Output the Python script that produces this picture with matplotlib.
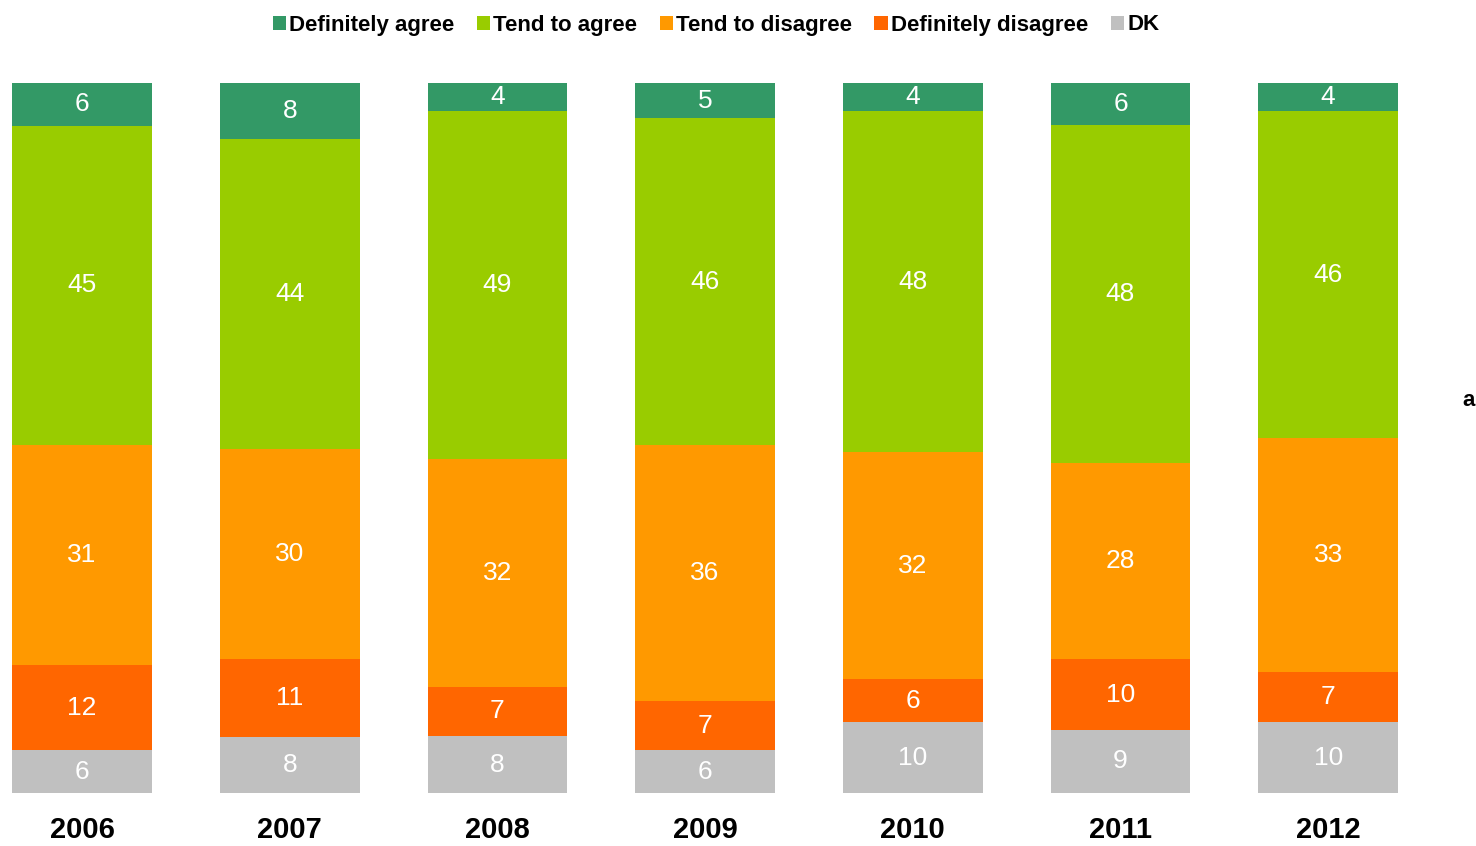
import numpy as np
import matplotlib
matplotlib.use("Agg")
import matplotlib.pyplot as plt

years = ["2006", "2007", "2008", "2009", "2010", "2011", "2012"]
series = ["Definitely agree", "Tend to agree", "Tend to disagree", "Definitely disagree", "DK"]
definitely_agree = [6, 8, 4, 5, 4, 6, 4]
tend_agree = [45, 44, 49, 46, 48, 48, 46]
tend_disagree = [31, 30, 32, 36, 32, 28, 33]
definitely_disagree = [12, 11, 7, 7, 6, 10, 7]
dk = [6, 8, 8, 6, 10, 9, 10]
colors = ["#339966", "#99cc00", "#ff9900", "#ff6600", "#c0c0c0"]

plt.rcParams['font.family'] = ['Liberation Sans', 'DejaVu Sans']

fig = plt.figure(figsize=(14.76, 8.46), dpi=100)
ax = fig.add_axes([0, 1 - 793 / 846, 1, (793 - 83) / 846])

x = np.arange(len(years))
# stacked bottom-up: DK, def disagree, tend disagree, tend agree, def agree
stack = [dk, definitely_disagree, tend_disagree, tend_agree, definitely_agree]
stack_names = ["DK", "Definitely disagree", "Tend to disagree", "Tend to agree", "Definitely agree"]
stack_cols = [colors[4], colors[3], colors[2], colors[1], colors[0]]
data = np.array(stack, dtype=float)
totals = data.sum(axis=0)
pct = data / totals * 100

bottom = np.zeros(len(years))
handles = {}
for vals, raw, name, col in zip(pct, stack, stack_names, stack_cols):
    b = ax.bar(x, vals, bottom=bottom, width=0.673, color=col, label=name, linewidth=0)
    handles[name] = b
    for xi, v, bt, r in zip(x, vals, bottom, raw):
        ax.text(xi, bt + v / 2, str(r), ha="center", va="center", color="white", fontsize=19)
    bottom += vals

ax.set_xlim(-0.395, 6.712)
ax.set_ylim(0, 100)
ax.axis("off")

for xi, y in zip(x, years):
    ax.text(xi, -5.2, y, ha="center", va="center", fontsize=21, color="black",
            fontweight="bold", transform=ax.transData)

fig.legend([handles[s] for s in series], series, loc="center", bbox_to_anchor=(716 / 1476, 1 - 25 / 846),
           ncol=5, frameon=False, handlelength=0.6, handleheight=0.6,
           handletextpad=0.15, columnspacing=1.0,
           prop={"weight": "bold", "size": 16})

fig.text(1462 / 1476, 1 - 400 / 846, "a", fontsize=16, fontweight="bold", va="center", ha="left")

fig.savefig("out.png", dpi=100)
